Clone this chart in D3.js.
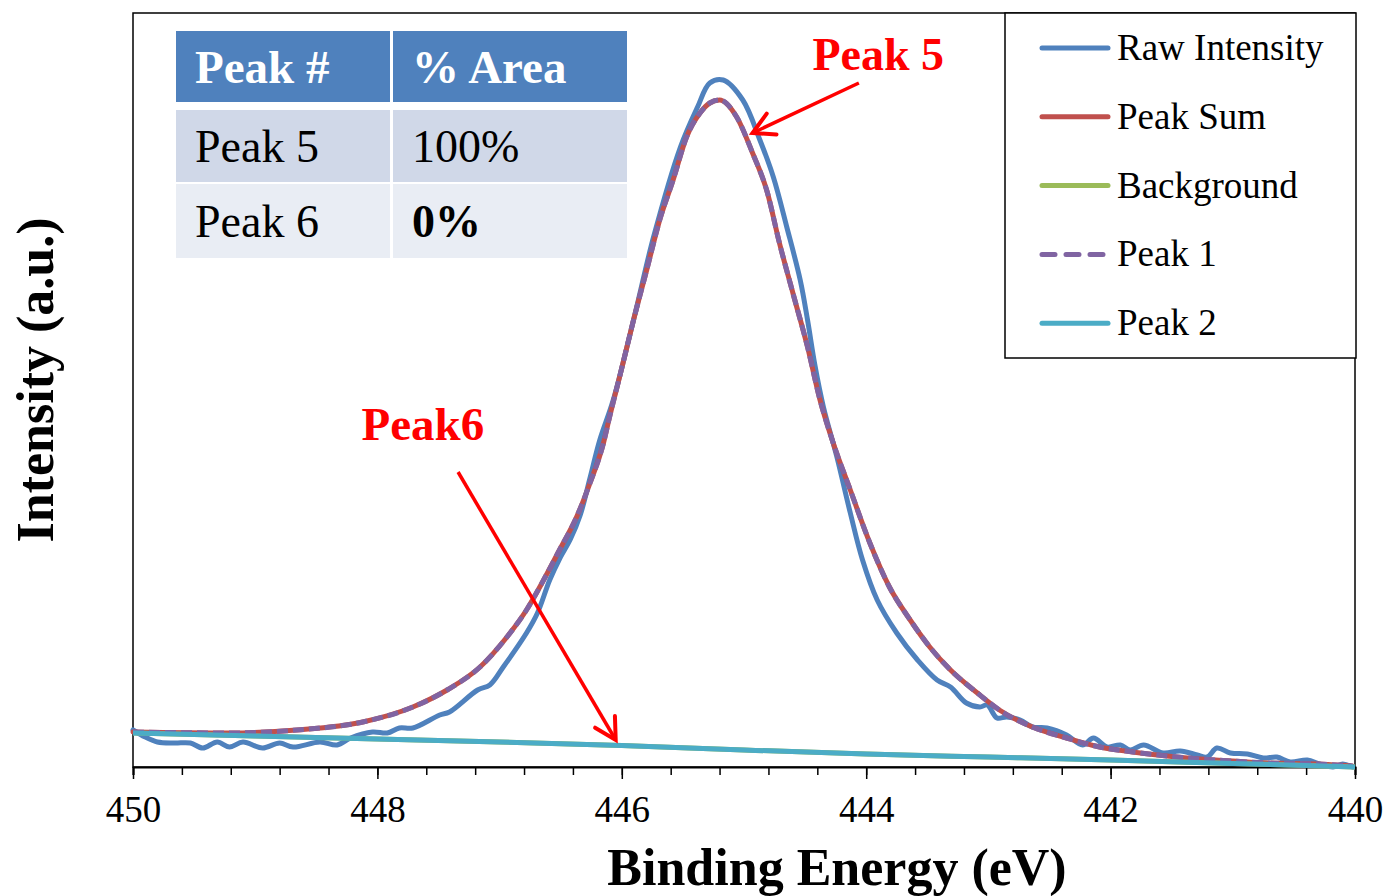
<!DOCTYPE html>
<html><head><meta charset="utf-8">
<script src="https://cdn.jsdelivr.net/npm/d3@7"></script>
<style>body{margin:0;background:#fff}svg{display:block}svg text{font-family:"Liberation Serif","Times New Roman",serif}</style>
</head><body><svg id="c" width="1386" height="896" font-family="Liberation Serif"></svg>
<script>
// ---- data (binding energy in eV, intensity in arbitrary units) ----
const rawEnergy = [450.00,449.90,449.80,449.66,449.53,449.43,449.31,449.21,449.10,448.94,448.80,448.69,448.47,448.33,448.22,448.04,447.92,447.82,447.71,447.49,447.41,447.18,447.08,446.97,446.78,446.69,446.59,446.51,446.42,446.34,446.26,446.18,446.07,445.89,445.74,445.52,445.38,445.28,445.17,445.01,444.87,444.76,444.65,444.54,444.48,444.42,444.35,444.24,444.13,444.03,443.91,443.75,443.58,443.42,443.31,443.18,443.07,443.01,442.93,442.85,442.74,442.64,442.52,442.36,442.23,442.14,442.03,441.92,441.84,441.73,441.57,441.43,441.29,441.21,441.13,441.02,440.88,440.75,440.64,440.53,440.39,440.29,440.18,440.10,440.02];
const rawIntensity = [37,30,25,24,24,19,25,20,25,19,24,20,25,22,29,35,34,39,39,52,55,77,82,100,134,154,187,208,228,252,289,327,367,454,530,620,660,684,687,667,627,590,540,487,447,402,360,310,254,207,167,134,107,87,80,64,60,62,49,50,47,40,39,32,22,29,20,22,17,22,14,16,12,10,19,14,13,9,10,5,7,3,0,3,0];

const fitEnergy = [450.00,449.21,448.66,448.12,447.71,447.43,447.16,446.94,446.78,446.64,446.51,446.37,446.26,446.15,446.10,446.01,445.91,445.79,445.69,445.58,445.47,445.36,445.28,445.20,445.06,444.93,444.81,444.71,444.60,444.48,444.38,444.27,444.13,443.97,443.81,443.64,443.48,443.31,443.09,442.91,442.64,442.36,442.09,441.82,441.54,441.27,441.00,440.72,440.31,440.02];
const peakSum = [35,34,37,45,60,77,100,130,157,187,217,250,284,324,350,394,444,500,547,587,630,654,664,667,650,614,575,524,474,420,368,324,277,224,180,147,120,97,74,57,40,29,20,15,11,8,6,4,3,1];
const peak1 = peakSum.slice();

const bgEnergy = [450,449,448,447,446,445,444,443,442,441,440];
const background = [34,31,28,25,21.5,17,13,10,7,3.5,0];
const peak2 = background.slice();

const xTicksMajor = [450,448,446,444,442,440];
const seriesNames = ["Raw Intensity","Peak Sum","Background","Peak 1","Peak 2"];
const seriesColors = ["#4F81BD","#C0504D","#9BBB59","#8064A2","#4BACC6"];

const tableHeader = ["Peak #","% Area"];
const tablePeaks = ["Peak 5","Peak 6"];
const tableAreas = ["100%","0%"];

// ---- layout ----
const FONT = "Liberation Serif";
const svg = d3.select("#c");
const L = 133, R = 1355, T = 13, B = 767;
const x = d3.scaleLinear().domain([450,440]).range([L,R]);
const y = d3.scaleLinear().domain([0,754]).range([B,T]);

// frame
svg.append("rect").attr("x",L).attr("y",T).attr("width",R-L).attr("height",B-T)
  .attr("fill","none").attr("stroke","#000").attr("stroke-width",1.5);

// x axis ticks
const minorTicks = d3.range(0,26).map(i=>450-i*0.4).filter(v=>v>=439.99);
const axisG = svg.append("g").attr("transform",`translate(0,${B})`);
axisG.call(d3.axisBottom(x).tickValues(minorTicks).tickSize(8).tickFormat(""))
  .call(g=>g.select(".domain").attr("stroke-width",2));
axisG.selectAll(".tick line").attr("stroke-width",1.5);
const majG = svg.append("g").attr("transform",`translate(0,${B})`);
majG.call(d3.axisBottom(x).tickValues(xTicksMajor).tickSize(12).tickPadding(17).tickFormat(d3.format("d")));
majG.attr("font-family",FONT).attr("font-size",37);
majG.select(".domain").remove();
majG.selectAll(".tick line").attr("stroke-width",1.5);
majG.selectAll(".tick text").attr("font-size",37).attr("fill","#000").attr("font-family",FONT);

// series
const raw = rawEnergy.map((e,i)=>[e,rawIntensity[i]]);
const fit = fitEnergy.map((e,i)=>[e,peakSum[i]]);
const fit1 = fitEnergy.map((e,i)=>[e,peak1[i]]);
const bg = bgEnergy.map((e,i)=>[e,background[i]]);
const bg2 = bgEnergy.map((e,i)=>[e,peak2[i]]);
const lineC = d3.line().x(d=>x(d[0])).y(d=>y(d[1])).curve(d3.curveCatmullRom.alpha(0.5));
const lineM = d3.line().x(d=>x(d[0])).y(d=>y(d[1])).curve(d3.curveMonotoneX);

const plot = svg.append("g");
plot.append("path").attr("d",lineC(raw)).attr("fill","none").attr("stroke",seriesColors[0]).attr("stroke-width",5).attr("stroke-linejoin","round").attr("stroke-linecap","round");
plot.append("path").attr("d",lineM(fit)).attr("fill","none").attr("stroke",seriesColors[1]).attr("stroke-width",5).attr("stroke-linecap","round");
plot.append("path").attr("d",lineM(bg)).attr("fill","none").attr("stroke",seriesColors[2]).attr("stroke-width",5);
plot.append("path").attr("d",lineM(fit1)).attr("fill","none").attr("stroke",seriesColors[3]).attr("stroke-width",5).attr("stroke-dasharray","11,5");
plot.append("path").attr("d",lineM(bg2)).attr("fill","none").attr("stroke",seriesColors[4]).attr("stroke-width",5);

// annotations
function arrow(e0,v0,e1,v1){
  const x0=x(e0),y0=y(v0),x1=x(e1),y1=y(v1);
  const a=Math.atan2(y1-y0,x1-x0), h=24, s=0.5;
  svg.append("line").attr("x1",x0).attr("y1",y0).attr("x2",x1).attr("y2",y1)
    .attr("stroke","#FF0000").attr("stroke-width",3.5);
  const p=`M${x1-h*Math.cos(a-s)},${y1-h*Math.sin(a-s)}L${x1},${y1}L${x1-h*Math.cos(a+s)},${y1-h*Math.sin(a+s)}`;
  svg.append("path").attr("d",p).attr("fill","none").attr("stroke","#FF0000").attr("stroke-width",4).attr("stroke-linecap","round").attr("stroke-linejoin","miter");
}
arrow(444.06,684,444.93,634);
arrow(447.34,295,446.05,27);
svg.append("text").attr("x",x(444.44)).attr("y",y(697)).attr("fill","#FF0000").attr("font-family",FONT).attr("font-weight","bold").attr("font-size",46).text("Peak 5");
svg.append("text").attr("x",x(448.13)).attr("y",y(327)).attr("fill","#FF0000").attr("font-family",FONT).attr("font-weight","bold").attr("font-size",47).text("Peak6");

// table
const tg = svg.append("g");
const colX=[176,393], colW=[214,234];
const rowY=[31,110,184], rowH=[71,72,74];
const rowFill=["#4F81BD","#D0D8E8","#E9EDF4"];
const cells=[[tableHeader[0],tableHeader[1]],[tablePeaks[0],tableAreas[0]],[tablePeaks[1],tableAreas[1]]];
cells.forEach((row,r)=>row.forEach((t,c)=>{
  tg.append("rect").attr("x",colX[c]).attr("y",rowY[r]).attr("width",colW[c]).attr("height",rowH[r]).attr("fill",rowFill[r]);
  const bold = r===0 || (r===2 && c===1);
  tg.append("text").attr("x",colX[c]+19).attr("y",rowY[r]+rowH[r]/2+16)
    .attr("font-family",FONT).attr("font-size",r===0?47:46).attr("font-weight",bold?"bold":"normal")
    .attr("fill",r===0?"#fff":"#000").text(t);
}));

// legend
const lg = svg.append("g");
lg.append("rect").attr("x",1005).attr("y",13).attr("width",351).attr("height",345).attr("fill","#fff").attr("stroke","#000").attr("stroke-width",1.5);
seriesNames.forEach((n,i)=>{
  const yy = 48 + i*68.8;
  lg.append("line").attr("x1",1042).attr("x2",1108).attr("y1",yy).attr("y2",yy)
    .attr("stroke",seriesColors[i]).attr("stroke-width",5).attr("stroke-linecap","round")
    .attr("stroke-dasharray",i===3?"13,11":null);
  lg.append("text").attr("x",1117).attr("y",yy+12).attr("font-family",FONT).attr("font-size",37).attr("fill","#000").text(n);
});

// axis titles
svg.append("text").attr("x",837).attr("y",885).attr("text-anchor","middle").attr("font-family",FONT)
  .attr("font-size",52).attr("font-weight","bold").text("Binding Energy (eV)");
svg.append("text").attr("transform","translate(53,380) rotate(-90)").attr("text-anchor","middle").attr("font-family",FONT)
  .attr("font-size",52).attr("font-weight","bold").text("Intensity (a.u.)");
</script></body></html>
